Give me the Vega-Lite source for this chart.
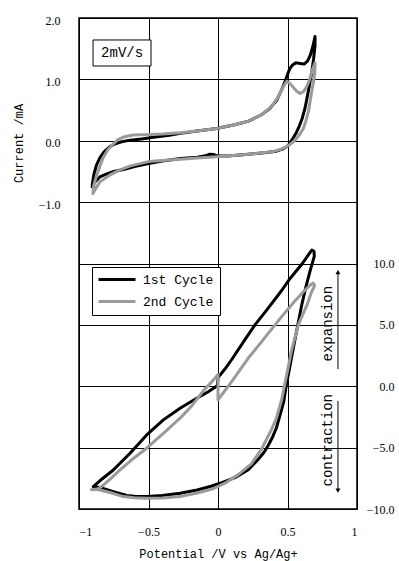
{
  "$schema": "https://vega.github.io/schema/vega-lite/v6.json",
  "width": 278,
  "height": 491,
  "autosize": "none",
  "padding": {"left": 79, "top": 18, "right": 42, "bottom": 52},
  "background": "white",
  "config": {
    "view": {"stroke": "black", "strokeWidth": 1.5},
    "axis": {
      "domain": false, "ticks": false, "tickSize": 0,
      "gridColor": "black", "gridWidth": 1, "gridOpacity": 1,
      "labelFont": "Liberation Serif", "labelFontSize": 12, "labelColor": "black",
      "titleFont": "Liberation Mono", "titleFontSize": 12, "titleFontWeight": "normal", "titleColor": "black"
    }
  },
  "datasets": {
    "cv": [
      {"cycle":"1st Cycle","k":1,"V":-0.905,"I":-0.72},{"cycle":"1st Cycle","k":2,"V":-0.893,"I":-0.55},{"cycle":"1st Cycle","k":3,"V":-0.875,"I":-0.40},{"cycle":"1st Cycle","k":4,"V":-0.85,"I":-0.28},{"cycle":"1st Cycle","k":5,"V":-0.82,"I":-0.18},{"cycle":"1st Cycle","k":6,"V":-0.78,"I":-0.10},{"cycle":"1st Cycle","k":7,"V":-0.75,"I":-0.06},{"cycle":"1st Cycle","k":8,"V":-0.70,"I":-0.02},{"cycle":"1st Cycle","k":9,"V":-0.633,"I":0.01},{"cycle":"1st Cycle","k":10,"V":-0.55,"I":0.03},{"cycle":"1st Cycle","k":11,"V":-0.45,"I":0.06},{"cycle":"1st Cycle","k":12,"V":-0.35,"I":0.09},{"cycle":"1st Cycle","k":13,"V":-0.27,"I":0.12},{"cycle":"1st Cycle","k":14,"V":-0.15,"I":0.16},{"cycle":"1st Cycle","k":15,"V":-0.01,"I":0.20},{"cycle":"1st Cycle","k":16,"V":0.12,"I":0.26},{"cycle":"1st Cycle","k":17,"V":0.22,"I":0.32},{"cycle":"1st Cycle","k":18,"V":0.31,"I":0.42},{"cycle":"1st Cycle","k":19,"V":0.37,"I":0.52},{"cycle":"1st Cycle","k":20,"V":0.42,"I":0.65},{"cycle":"1st Cycle","k":21,"V":0.458,"I":0.83},{"cycle":"1st Cycle","k":22,"V":0.48,"I":0.95},{"cycle":"1st Cycle","k":23,"V":0.50,"I":1.08},{"cycle":"1st Cycle","k":24,"V":0.515,"I":1.17},{"cycle":"1st Cycle","k":25,"V":0.535,"I":1.23},{"cycle":"1st Cycle","k":26,"V":0.56,"I":1.27},{"cycle":"1st Cycle","k":27,"V":0.59,"I":1.26},{"cycle":"1st Cycle","k":28,"V":0.62,"I":1.25},{"cycle":"1st Cycle","k":29,"V":0.645,"I":1.30},{"cycle":"1st Cycle","k":30,"V":0.665,"I":1.40},{"cycle":"1st Cycle","k":31,"V":0.685,"I":1.56},{"cycle":"1st Cycle","k":32,"V":0.698,"I":1.70},{"cycle":"1st Cycle","k":33,"V":0.698,"I":1.55},{"cycle":"1st Cycle","k":34,"V":0.688,"I":1.34},{"cycle":"1st Cycle","k":35,"V":0.675,"I":1.12},{"cycle":"1st Cycle","k":36,"V":0.662,"I":0.96},{"cycle":"1st Cycle","k":37,"V":0.645,"I":0.75},{"cycle":"1st Cycle","k":38,"V":0.626,"I":0.53},{"cycle":"1st Cycle","k":39,"V":0.605,"I":0.36},{"cycle":"1st Cycle","k":40,"V":0.585,"I":0.24},{"cycle":"1st Cycle","k":41,"V":0.565,"I":0.14},{"cycle":"1st Cycle","k":42,"V":0.545,"I":0.06},{"cycle":"1st Cycle","k":43,"V":0.52,"I":-0.03},{"cycle":"1st Cycle","k":44,"V":0.50,"I":-0.09},{"cycle":"1st Cycle","k":45,"V":0.47,"I":-0.13},{"cycle":"1st Cycle","k":46,"V":0.42,"I":-0.17},{"cycle":"1st Cycle","k":47,"V":0.35,"I":-0.19},{"cycle":"1st Cycle","k":48,"V":0.22,"I":-0.22},{"cycle":"1st Cycle","k":49,"V":0.07,"I":-0.25},{"cycle":"1st Cycle","k":50,"V":0.0,"I":-0.25},{"cycle":"1st Cycle","k":51,"V":-0.03,"I":-0.225},{"cycle":"1st Cycle","k":52,"V":-0.06,"I":-0.22},{"cycle":"1st Cycle","k":53,"V":-0.09,"I":-0.245},{"cycle":"1st Cycle","k":54,"V":-0.15,"I":-0.27},{"cycle":"1st Cycle","k":55,"V":-0.27,"I":-0.29},{"cycle":"1st Cycle","k":56,"V":-0.40,"I":-0.33},{"cycle":"1st Cycle","k":57,"V":-0.50,"I":-0.37},{"cycle":"1st Cycle","k":58,"V":-0.60,"I":-0.42},{"cycle":"1st Cycle","k":59,"V":-0.68,"I":-0.47},{"cycle":"1st Cycle","k":60,"V":-0.75,"I":-0.50},{"cycle":"1st Cycle","k":61,"V":-0.80,"I":-0.54},{"cycle":"1st Cycle","k":62,"V":-0.85,"I":-0.59},{"cycle":"1st Cycle","k":63,"V":-0.885,"I":-0.67},{"cycle":"1st Cycle","k":64,"V":-0.905,"I":-0.75},
      {"cycle":"2nd Cycle","k":1,"V":-0.90,"I":-0.86},{"cycle":"2nd Cycle","k":2,"V":-0.893,"I":-0.72},{"cycle":"2nd Cycle","k":3,"V":-0.875,"I":-0.58},{"cycle":"2nd Cycle","k":4,"V":-0.85,"I":-0.42},{"cycle":"2nd Cycle","k":5,"V":-0.825,"I":-0.27},{"cycle":"2nd Cycle","k":6,"V":-0.79,"I":-0.14},{"cycle":"2nd Cycle","k":7,"V":-0.753,"I":-0.05},{"cycle":"2nd Cycle","k":8,"V":-0.72,"I":0.02},{"cycle":"2nd Cycle","k":9,"V":-0.68,"I":0.06},{"cycle":"2nd Cycle","k":10,"V":-0.61,"I":0.095},{"cycle":"2nd Cycle","k":11,"V":-0.50,"I":0.10},{"cycle":"2nd Cycle","k":12,"V":-0.40,"I":0.11},{"cycle":"2nd Cycle","k":13,"V":-0.27,"I":0.13},{"cycle":"2nd Cycle","k":14,"V":-0.15,"I":0.16},{"cycle":"2nd Cycle","k":15,"V":-0.01,"I":0.20},{"cycle":"2nd Cycle","k":16,"V":0.12,"I":0.26},{"cycle":"2nd Cycle","k":17,"V":0.22,"I":0.32},{"cycle":"2nd Cycle","k":18,"V":0.31,"I":0.42},{"cycle":"2nd Cycle","k":19,"V":0.386,"I":0.56},{"cycle":"2nd Cycle","k":20,"V":0.434,"I":0.72},{"cycle":"2nd Cycle","k":21,"V":0.47,"I":0.88},{"cycle":"2nd Cycle","k":22,"V":0.494,"I":0.97},{"cycle":"2nd Cycle","k":23,"V":0.52,"I":0.93},{"cycle":"2nd Cycle","k":24,"V":0.542,"I":0.87},{"cycle":"2nd Cycle","k":25,"V":0.565,"I":0.81},{"cycle":"2nd Cycle","k":26,"V":0.59,"I":0.77},{"cycle":"2nd Cycle","k":27,"V":0.615,"I":0.80},{"cycle":"2nd Cycle","k":28,"V":0.638,"I":0.88},{"cycle":"2nd Cycle","k":29,"V":0.66,"I":1.00},{"cycle":"2nd Cycle","k":30,"V":0.675,"I":1.13},{"cycle":"2nd Cycle","k":31,"V":0.69,"I":1.22},{"cycle":"2nd Cycle","k":32,"V":0.698,"I":1.27},{"cycle":"2nd Cycle","k":33,"V":0.696,"I":1.10},{"cycle":"2nd Cycle","k":34,"V":0.686,"I":0.95},{"cycle":"2nd Cycle","k":35,"V":0.674,"I":0.80},{"cycle":"2nd Cycle","k":36,"V":0.662,"I":0.63},{"cycle":"2nd Cycle","k":37,"V":0.65,"I":0.47},{"cycle":"2nd Cycle","k":38,"V":0.632,"I":0.32},{"cycle":"2nd Cycle","k":39,"V":0.614,"I":0.20},{"cycle":"2nd Cycle","k":40,"V":0.59,"I":0.11},{"cycle":"2nd Cycle","k":41,"V":0.566,"I":0.04},{"cycle":"2nd Cycle","k":42,"V":0.54,"I":-0.02},{"cycle":"2nd Cycle","k":43,"V":0.518,"I":-0.06},{"cycle":"2nd Cycle","k":44,"V":0.49,"I":-0.10},{"cycle":"2nd Cycle","k":45,"V":0.45,"I":-0.14},{"cycle":"2nd Cycle","k":46,"V":0.39,"I":-0.18},{"cycle":"2nd Cycle","k":47,"V":0.30,"I":-0.20},{"cycle":"2nd Cycle","k":48,"V":0.22,"I":-0.22},{"cycle":"2nd Cycle","k":49,"V":0.07,"I":-0.25},{"cycle":"2nd Cycle","k":50,"V":-0.01,"I":-0.26},{"cycle":"2nd Cycle","k":51,"V":-0.15,"I":-0.28},{"cycle":"2nd Cycle","k":52,"V":-0.27,"I":-0.30},{"cycle":"2nd Cycle","k":53,"V":-0.40,"I":-0.32},{"cycle":"2nd Cycle","k":54,"V":-0.50,"I":-0.34},{"cycle":"2nd Cycle","k":55,"V":-0.63,"I":-0.41},{"cycle":"2nd Cycle","k":56,"V":-0.705,"I":-0.475},{"cycle":"2nd Cycle","k":57,"V":-0.777,"I":-0.557},{"cycle":"2nd Cycle","k":58,"V":-0.85,"I":-0.67},{"cycle":"2nd Cycle","k":59,"V":-0.885,"I":-0.80},{"cycle":"2nd Cycle","k":60,"V":-0.90,"I":-0.86}
    ],
    "strain": [
      {"cycle":"1st Cycle","k":1,"V":-0.897,"S":-8.18},{"cycle":"1st Cycle","k":2,"V":-0.85,"S":-7.7},{"cycle":"1st Cycle","k":3,"V":-0.753,"S":-6.82},{"cycle":"1st Cycle","k":4,"V":-0.633,"S":-5.46},{"cycle":"1st Cycle","k":5,"V":-0.513,"S":-3.97},{"cycle":"1st Cycle","k":6,"V":-0.393,"S":-2.74},{"cycle":"1st Cycle","k":7,"V":-0.273,"S":-1.79},{"cycle":"1st Cycle","k":8,"V":-0.153,"S":-0.98},{"cycle":"1st Cycle","k":9,"V":-0.07,"S":-0.45},{"cycle":"1st Cycle","k":10,"V":-0.005,"S":0.05},{"cycle":"1st Cycle","k":11,"V":0.0,"S":0.7},{"cycle":"1st Cycle","k":12,"V":0.05,"S":1.4},{"cycle":"1st Cycle","k":13,"V":0.1,"S":2.2},{"cycle":"1st Cycle","k":14,"V":0.2,"S":3.9},{"cycle":"1st Cycle","k":15,"V":0.266,"S":5.0},{"cycle":"1st Cycle","k":16,"V":0.35,"S":6.2},{"cycle":"1st Cycle","k":17,"V":0.458,"S":7.8},{"cycle":"1st Cycle","k":18,"V":0.52,"S":8.8},{"cycle":"1st Cycle","k":19,"V":0.607,"S":10.0},{"cycle":"1st Cycle","k":20,"V":0.65,"S":10.7},{"cycle":"1st Cycle","k":21,"V":0.675,"S":11.1},{"cycle":"1st Cycle","k":22,"V":0.69,"S":11.0},{"cycle":"1st Cycle","k":23,"V":0.693,"S":10.6},{"cycle":"1st Cycle","k":24,"V":0.665,"S":9.5},{"cycle":"1st Cycle","k":25,"V":0.63,"S":8.0},{"cycle":"1st Cycle","k":26,"V":0.60,"S":6.5},{"cycle":"1st Cycle","k":27,"V":0.553,"S":3.77},{"cycle":"1st Cycle","k":28,"V":0.508,"S":1.06},{"cycle":"1st Cycle","k":29,"V":0.49,"S":0.0},{"cycle":"1st Cycle","k":30,"V":0.472,"S":-1.3},{"cycle":"1st Cycle","k":31,"V":0.445,"S":-2.4},{"cycle":"1st Cycle","k":32,"V":0.42,"S":-3.4},{"cycle":"1st Cycle","k":33,"V":0.39,"S":-4.2},{"cycle":"1st Cycle","k":34,"V":0.36,"S":-4.85},{"cycle":"1st Cycle","k":35,"V":0.33,"S":-5.4},{"cycle":"1st Cycle","k":36,"V":0.29,"S":-5.95},{"cycle":"1st Cycle","k":37,"V":0.218,"S":-6.8},{"cycle":"1st Cycle","k":38,"V":0.122,"S":-7.45},{"cycle":"1st Cycle","k":39,"V":0.027,"S":-7.85},{"cycle":"1st Cycle","k":40,"V":-0.05,"S":-8.15},{"cycle":"1st Cycle","k":41,"V":-0.15,"S":-8.45},{"cycle":"1st Cycle","k":42,"V":-0.273,"S":-8.71},{"cycle":"1st Cycle","k":43,"V":-0.40,"S":-8.9},{"cycle":"1st Cycle","k":44,"V":-0.513,"S":-8.99},{"cycle":"1st Cycle","k":45,"V":-0.60,"S":-8.97},{"cycle":"1st Cycle","k":46,"V":-0.657,"S":-8.9},{"cycle":"1st Cycle","k":47,"V":-0.753,"S":-8.58},{"cycle":"1st Cycle","k":48,"V":-0.849,"S":-8.25},{"cycle":"1st Cycle","k":49,"V":-0.897,"S":-8.18},
      {"cycle":"2nd Cycle","k":1,"V":-0.91,"S":-8.44},{"cycle":"2nd Cycle","k":2,"V":-0.86,"S":-8.35},{"cycle":"2nd Cycle","k":3,"V":-0.825,"S":-8.05},{"cycle":"2nd Cycle","k":4,"V":-0.77,"S":-7.5},{"cycle":"2nd Cycle","k":5,"V":-0.705,"S":-6.82},{"cycle":"2nd Cycle","k":6,"V":-0.60,"S":-5.8},{"cycle":"2nd Cycle","k":7,"V":-0.513,"S":-5.05},{"cycle":"2nd Cycle","k":8,"V":-0.393,"S":-3.83},{"cycle":"2nd Cycle","k":9,"V":-0.273,"S":-2.6},{"cycle":"2nd Cycle","k":10,"V":-0.189,"S":-1.6},{"cycle":"2nd Cycle","k":11,"V":-0.10,"S":-0.3},{"cycle":"2nd Cycle","k":12,"V":-0.034,"S":0.5},{"cycle":"2nd Cycle","k":13,"V":0.0,"S":0.95},{"cycle":"2nd Cycle","k":14,"V":0.0,"S":-1.1},{"cycle":"2nd Cycle","k":15,"V":0.1,"S":0.4},{"cycle":"2nd Cycle","k":16,"V":0.218,"S":2.3},{"cycle":"2nd Cycle","k":17,"V":0.34,"S":4.0},{"cycle":"2nd Cycle","k":18,"V":0.458,"S":5.67},{"cycle":"2nd Cycle","k":19,"V":0.55,"S":6.9},{"cycle":"2nd Cycle","k":20,"V":0.626,"S":7.84},{"cycle":"2nd Cycle","k":21,"V":0.67,"S":8.3},{"cycle":"2nd Cycle","k":22,"V":0.686,"S":8.4},{"cycle":"2nd Cycle","k":23,"V":0.695,"S":8.2},{"cycle":"2nd Cycle","k":24,"V":0.67,"S":7.6},{"cycle":"2nd Cycle","k":25,"V":0.64,"S":6.6},{"cycle":"2nd Cycle","k":26,"V":0.60,"S":5.6},{"cycle":"2nd Cycle","k":27,"V":0.578,"S":5.0},{"cycle":"2nd Cycle","k":28,"V":0.53,"S":2.96},{"cycle":"2nd Cycle","k":29,"V":0.482,"S":0.24},{"cycle":"2nd Cycle","k":30,"V":0.458,"S":-1.1},{"cycle":"2nd Cycle","k":31,"V":0.42,"S":-2.6},{"cycle":"2nd Cycle","k":32,"V":0.386,"S":-3.5},{"cycle":"2nd Cycle","k":33,"V":0.314,"S":-5.1},{"cycle":"2nd Cycle","k":34,"V":0.242,"S":-6.3},{"cycle":"2nd Cycle","k":35,"V":0.146,"S":-7.2},{"cycle":"2nd Cycle","k":36,"V":0.05,"S":-7.9},{"cycle":"2nd Cycle","k":37,"V":-0.034,"S":-8.35},{"cycle":"2nd Cycle","k":38,"V":-0.15,"S":-8.7},{"cycle":"2nd Cycle","k":39,"V":-0.273,"S":-8.99},{"cycle":"2nd Cycle","k":40,"V":-0.40,"S":-9.1},{"cycle":"2nd Cycle","k":41,"V":-0.513,"S":-9.12},{"cycle":"2nd Cycle","k":42,"V":-0.60,"S":-9.08},{"cycle":"2nd Cycle","k":43,"V":-0.681,"S":-8.99},{"cycle":"2nd Cycle","k":44,"V":-0.777,"S":-8.66},{"cycle":"2nd Cycle","k":45,"V":-0.873,"S":-8.39},{"cycle":"2nd Cycle","k":46,"V":-0.91,"S":-8.44}
    ]
  },
  "layer": [
    {
      "layer": [
        {
          "data": {"name": "cv"},
          "mark": {"type": "line", "strokeWidth": 3, "strokeJoin": "round", "strokeCap": "round"},
          "encoding": {
            "x": {"field": "V", "type": "quantitative", "title": "Potential /V vs Ag/Ag+", "scale": {"domain": [-1, 1], "nice": false, "zero": false},
                  "axis": {"values": [-1, -0.5, 0, 0.5, 1], "format": "~g", "grid": true, "labelPadding": 17, "titleY": 39, "titleBaseline": "top"}},
            "y": {"field": "I", "type": "quantitative", "title": "Current /mA", "scale": {"domain": [-6, 2], "nice": false, "zero": false},
                  "axis": {"orient": "left", "values": [-6, -5, -4, -3, -2, -1, 0, 1, 2], "grid": true,
                           "labelExpr": "datum.value >= -1 ? format(datum.value, '.1f') : ''", "labelPadding": 19, "labelBaseline": "middle", "labelOffset": 2,
                           "titleX": -61, "titleY": 125, "titleBaseline": "middle", "titleAlign": "center", "titleAngle": 270}},
            "order": {"field": "k", "type": "quantitative"},
            "color": {"field": "cycle", "type": "nominal", "scale": {"domain": ["1st Cycle", "2nd Cycle"], "range": ["#000000", "#9a9a9a"]},
                      "legend": {"title": null, "orient": "none", "legendX": 13, "legendY": 249, "strokeColor": "black", "fillColor": "white", "padding": 6,
                                 "symbolType": "M-3.7,0H3.7", "symbolSize": 100, "symbolOffset": 12.5, "labelOffset": 19.5, "rowPadding": 8,
                                 "symbolStrokeWidth": 3, "labelFont": "Liberation Mono", "labelFontSize": 13, "labelColor": "black"}}
          }
        },
        {
          "data": {"values": [{"V1": -0.899, "V2": -0.482, "I1": 1.218, "I2": 1.642}]},
          "mark": {"type": "rect", "fill": "white", "stroke": "black", "strokeWidth": 1},
          "encoding": {
            "x": {"field": "V1", "type": "quantitative", "title": "Potential /V vs Ag/Ag+"},
            "x2": {"field": "V2"},
            "y": {"field": "I1", "type": "quantitative", "title": "Current /mA"},
            "y2": {"field": "I2"}
          }
        },
        {
          "data": {"values": [{"V": -0.69, "I": 1.43, "label": "2mV/s"}]},
          "mark": {"type": "text", "font": "Liberation Mono", "fontSize": 14, "color": "black", "align": "center", "baseline": "middle"},
          "encoding": {
            "x": {"field": "V", "type": "quantitative", "title": "Potential /V vs Ag/Ag+"},
            "y": {"field": "I", "type": "quantitative", "title": "Current /mA"},
            "text": {"field": "label"}
          }
        }
      ]
    },
    {
      "layer": [
        {
          "data": {"name": "strain"},
          "mark": {"type": "line", "strokeWidth": 3, "strokeJoin": "round", "strokeCap": "round"},
          "encoding": {
            "x": {"field": "V", "type": "quantitative", "title": "Potential /V vs Ag/Ag+"},
            "y": {"field": "S", "type": "quantitative", "title": null, "scale": {"domain": [-10, 30], "nice": false, "zero": false},
                  "axis": {"orient": "right", "values": [-10, -5, 0, 5, 10], "format": ".1f", "grid": false, "labelPadding": 37, "labelAlign": "right", "labelBaseline": "middle"}},
            "order": {"field": "k", "type": "quantitative"},
            "color": {"field": "cycle", "type": "nominal", "scale": {"domain": ["1st Cycle", "2nd Cycle"], "range": ["#000000", "#9a9a9a"]},
                      "legend": {"title": null, "orient": "none", "legendX": 13, "legendY": 249, "strokeColor": "black", "fillColor": "white", "padding": 6,
                                 "symbolType": "M-3.7,0H3.7", "symbolSize": 100, "symbolOffset": 12.5, "labelOffset": 19.5, "rowPadding": 8,
                                 "symbolStrokeWidth": 3, "labelFont": "Liberation Mono", "labelFontSize": 13, "labelColor": "black"}}
          }
        },
        {
          "data": {"values": [{"V": 0.863, "S": 9.3, "S2": 1.4}, {"V": 0.863, "S": -1.2, "S2": -8.5}]},
          "mark": {"type": "rule", "color": "black", "strokeWidth": 1},
          "encoding": {
            "x": {"field": "V", "type": "quantitative", "title": "Potential /V vs Ag/Ag+"},
            "y": {"field": "S", "type": "quantitative", "title": null},
            "y2": {"field": "S2"}
          }
        },
        {
          "data": {"values": [{"V": 0.863, "S": 9.3}]},
          "mark": {"type": "point", "shape": "triangle-up", "filled": true, "color": "black", "size": 25, "opacity": 1},
          "encoding": {
            "x": {"field": "V", "type": "quantitative", "title": "Potential /V vs Ag/Ag+"},
            "y": {"field": "S", "type": "quantitative", "title": null}
          }
        },
        {
          "data": {"values": [{"V": 0.863, "S": -8.5}]},
          "mark": {"type": "point", "shape": "triangle-down", "filled": true, "color": "black", "size": 25, "opacity": 1},
          "encoding": {
            "x": {"field": "V", "type": "quantitative", "title": "Potential /V vs Ag/Ag+"},
            "y": {"field": "S", "type": "quantitative", "title": null}
          }
        },
        {
          "data": {"values": [{"V": 0.788, "S": 5.1, "label": "expansion"}, {"V": 0.788, "S": -4.4, "label": "contraction"}]},
          "mark": {"type": "text", "font": "Liberation Mono", "fontSize": 14, "color": "black", "align": "center", "baseline": "middle", "angle": 270},
          "encoding": {
            "x": {"field": "V", "type": "quantitative", "title": "Potential /V vs Ag/Ag+"},
            "y": {"field": "S", "type": "quantitative", "title": null},
            "text": {"field": "label"}
          }
        }
      ]
    }
  ],
  "resolve": {"scale": {"y": "independent"}, "axis": {"y": "independent"}}
}
